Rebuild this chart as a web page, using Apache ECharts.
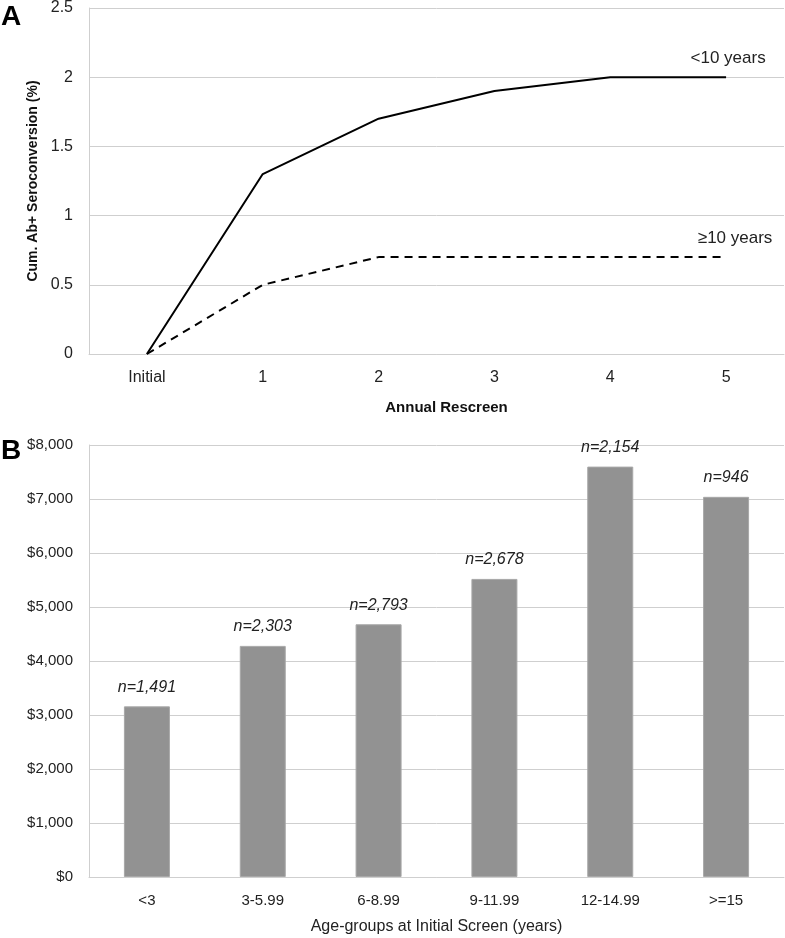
<!DOCTYPE html>
<html>
<head>
<meta charset="utf-8">
<script src="https://cdn.jsdelivr.net/npm/echarts@6/dist/echarts.min.js"></script>
<style>
html,body{margin:0;padding:0;background:#fff;}
#c{width:785px;height:938px;}
</style>
</head>
<body>
<div id="c"></div>
<script>
// Panel A
const rescreenCats = ["Initial", "1", "2", "3", "4", "5"];
const under10 = [0, 1.3, 1.7, 1.9, 2.0, 2.0];
const over10 = [0, 0.5, 0.7, 0.7, 0.7, 0.7];
const under10Label = "<10 years";
const over10Label = "\u226510 years";
// Panel B
const ageGroups = ["<3", "3-5.99", "6-8.99", "9-11.99", "12-14.99", ">=15"];
const costs = [3160, 4280, 4680, 5520, 7600, 7040];
const counts = ["n=1,491", "n=2,303", "n=2,793", "n=2,678", "n=2,154", "n=946"];

const FONT = "Arial, 'Liberation Sans', sans-serif";
const gridColor = "#cfcfcf";

const chart = echarts.init(document.getElementById('c'), null, {renderer: 'canvas'});

function lastLabel(text, offset) {
  return {
    show: true,
    position: 'top',
    distance: 10,
    offset: offset,
    color: '#222',
    fontFamily: FONT,
    fontSize: 17,
    formatter: function (p) { return p.dataIndex === rescreenCats.length - 1 ? text : ''; }
  };
}

const option = {
  animation: false,
  backgroundColor: '#fff',
  textStyle: {fontFamily: FONT},
  grid: [
    {left: 89, right: 1, top: 8, height: 346, outerBoundsMode: 'none', containLabel: false},
    {left: 89, right: 1, top: 445, height: 432, outerBoundsMode: 'none', containLabel: false}
  ],
  xAxis: [
    {
      gridIndex: 0, type: 'category', data: rescreenCats, boundaryGap: true,
      axisLine: {show: true, lineStyle: {color: gridColor, width: 1}},
      axisTick: {show: false},
      axisLabel: {color: '#222', fontSize: 16, fontFamily: FONT, margin: 16},
      name: 'Annual Rescreen', nameLocation: 'middle', nameGap: 46,
      nameTextStyle: {color: '#111', fontSize: 15, fontWeight: 'bold', fontFamily: FONT, padding: [0, 0, 0, 20]}
    },
    {
      gridIndex: 1, type: 'category', data: ageGroups, boundaryGap: true,
      axisLine: {show: true, lineStyle: {color: gridColor, width: 1}},
      axisTick: {show: false},
      axisLabel: {color: '#222', fontSize: 15, fontFamily: "'Liberation Sans Narrow', " + FONT, margin: 16},
      name: 'Age-groups at Initial Screen (years)', nameLocation: 'middle', nameGap: 42,
      nameTextStyle: {color: '#222', fontSize: 16, fontFamily: "'Liberation Sans Narrow', " + FONT}
    }
  ],
  yAxis: [
    {
      gridIndex: 0, type: 'value', min: 0, max: 2.5, interval: 0.5,
      axisLine: {show: true, lineStyle: {color: gridColor, width: 1}},
      axisTick: {show: false},
      splitLine: {show: true, lineStyle: {color: gridColor, width: 1}},
      axisLabel: {color: '#222', fontSize: 16, fontFamily: FONT, margin: 16},
      name: 'Cum. Ab+ Seroconversion (%)', nameLocation: 'middle', nameGap: 46, nameRotate: 90,
      nameTextStyle: {color: '#111', fontSize: 14, fontWeight: 'bold', fontFamily: FONT}
    },
    {
      gridIndex: 1, type: 'value', min: 0, max: 8000, interval: 1000,
      axisLine: {show: true, lineStyle: {color: gridColor, width: 1}},
      axisTick: {show: false},
      splitLine: {show: true, lineStyle: {color: gridColor, width: 1}},
      axisLabel: {color: '#222', fontSize: 15, fontFamily: FONT, margin: 16,
        formatter: function (v) { return '$' + v.toLocaleString('en-US'); }}
    }
  ],
  series: [
    {
      type: 'line', xAxisIndex: 0, yAxisIndex: 0, data: under10,
      symbol: 'circle', symbolSize: 0.1, showSymbol: true,
      itemStyle: {color: '#000'},
      lineStyle: {color: '#000', width: 2, type: 'solid'},
      label: lastLabel(under10Label, [2, 0])
    },
    {
      type: 'line', xAxisIndex: 0, yAxisIndex: 0, data: over10,
      symbol: 'circle', symbolSize: 0.1, showSymbol: true,
      itemStyle: {color: '#000'},
      lineStyle: {color: '#000', width: 2, type: [8, 6]},
      label: lastLabel(over10Label, [9, 0])
    },
    {
      type: 'bar', xAxisIndex: 1, yAxisIndex: 1, data: costs,
      barWidth: 46,
      itemStyle: {color: '#929292', borderColor: '#a8a8a8', borderWidth: 1},
      label: {
        show: true, position: 'top', distance: 11,
        color: '#222', fontSize: 16, fontStyle: 'italic', fontFamily: FONT,
        formatter: function (p) { return counts[p.dataIndex]; }
      }
    }
  ],
  graphic: [
    {type: 'text', left: 1, top: 3, style: {text: 'A', fontSize: 28, fontWeight: 'bold', fontFamily: FONT, fill: '#000'}},
    {type: 'text', left: 1, top: 437, style: {text: 'B', fontSize: 28, fontWeight: 'bold', fontFamily: FONT, fill: '#000'}}
  ]
};
chart.setOption(option);
</script>
</body>
</html>
